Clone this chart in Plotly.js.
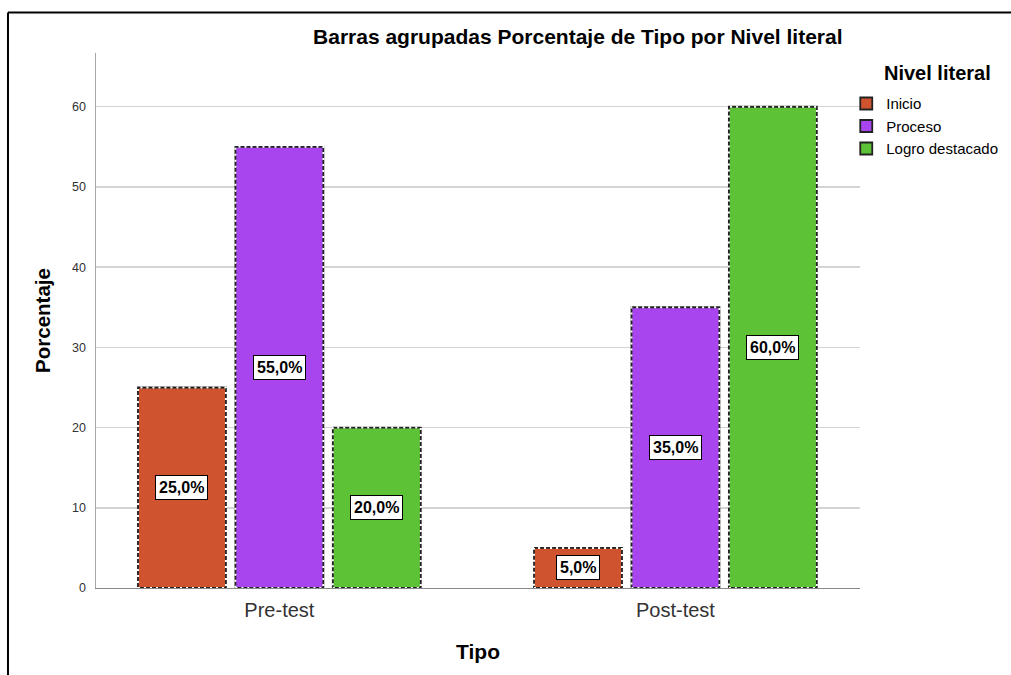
<!DOCTYPE html>
<html>
<head>
<meta charset="utf-8">
<script src="https://cdn.plot.ly/plotly-3.0.1.min.js"></script>
<style>html,body{margin:0;padding:0;background:#fff;}#chart{width:1011px;height:675px;}</style>
</head>
<body>
<div id="chart"></div>
<script>
// ---- data ----
const categories = ["Pre-test", "Post-test"];
const seriesNames = ["Inicio", "Proceso", "Logro destacado"];
const inicio = [25.0, 5.0];
const proceso = [55.0, 35.0];
const logro = [20.0, 60.0];
const seriesColors = ["#d0532f", "#a845ee", "#5ec236"];
const yTicks = [0, 10, 20, 30, 40, 50, 60];
const legendTitle = "Nivel literal";

const seriesValues = [inicio, proceso, logro];
const bargap = 0.262;
const bargroupgap = 0.097;
const FONT = "Liberation Sans, Arial, sans-serif";

const traces = seriesValues.map((vals, s) => ({
  type: "bar",
  name: seriesNames[s],
  x: categories,
  y: vals,
  marker: { color: seriesColors[s], line: { color: "#222222", width: 1.8 } },
  hoverinfo: "skip"
}));

// compute bar positions the way plotly groups them (for outlines / labels)
const nS = seriesValues.length;
const slot = (1 - bargap) / nS;
const bw = slot * (1 - bargroupgap);
const shapes = [];
const annotations = [];
seriesValues.forEach((vals, s) => {
  vals.forEach((v, i) => {
    const c = i + (s - (nS - 1) / 2) * slot;
    // white dash gaps over solid dark outline -> dashed look
    shapes.push({
      type: "rect", xref: "x", yref: "y",
      x0: c - bw / 2, x1: c + bw / 2, y0: 0, y1: v,
      line: { color: "#ffffff", width: 2, dash: "2px,4px" },
      fillcolor: "rgba(0,0,0,0)", layer: "above"
    });
    annotations.push({
      x: c, y: v / 2, xref: "x", yref: "y",
      text: "<b>" + v.toFixed(1).replace(".", ",") + "%</b>",
      showarrow: false,
      font: { family: FONT, size: 16, color: "#000" },
      bgcolor: "#ffffff", bordercolor: "#000000", borderwidth: 1, borderpad: 3
    });
  });
});

// legend title
annotations.push({
  xref: "paper", yref: "paper", x: 1.102, y: 0.9626, xanchor: "center", yanchor: "middle",
  text: "<b>" + legendTitle + "</b>", showarrow: false,
  font: { family: FONT, size: 20, color: "#000" }
});

// outer frame (left, top)
shapes.push({ type: "line", xref: "paper", yref: "paper", x0: -0.1152, x1: -0.1152, y0: 1.0757, y1: -0.2,
  line: { color: "#000", width: 2 } });
shapes.push({ type: "line", xref: "paper", yref: "paper", x0: -0.1152, x1: 1.2, y0: 1.0757, y1: 1.0757,
  line: { color: "#000", width: 2 } });

const layout = {
  width: 1011, height: 675,
  margin: { l: 96, r: 151, t: 53, b: 87, autoexpand: false },
  paper_bgcolor: "#ffffff", plot_bgcolor: "#ffffff",
  font: { family: FONT, color: "#333" },
  barmode: "group", bargap: bargap, bargroupgap: bargroupgap,
  title: { text: "<b>Barras agrupadas Porcentaje de Tipo por Nivel literal</b>",
    font: { family: FONT, size: 21, color: "#000" }, x: 0.5715, xanchor: "center", y: 0.945, yanchor: "middle" },
  xaxis: {
    type: "category", range: [-0.463, 1.466],
    showgrid: false, showline: true, linecolor: "#888", linewidth: 1,
    ticks: "", ticklabelstandoff: 4, tickfont: { family: FONT, size: 20, color: "#333" },
    title: { text: "<b>Tipo</b>", font: { family: FONT, size: 21, color: "#000" }, standoff: 24 },
    fixedrange: true
  },
  yaxis: {
    range: [0, 66.7], tickvals: yTicks, ticktext: yTicks.map(String),
    showgrid: true, gridcolor: "#d4d4d4", gridwidth: 1.5,
    showline: true, linecolor: "#a6a6a6", linewidth: 1.5, zeroline: false,
    ticks: "", ticklabelstandoff: 6,
    tickfont: { family: FONT, size: 12.5, color: "#333" },
    title: { text: "<b>Porcentaje</b>", font: { family: FONT, size: 20.5, color: "#000" }, standoff: 16 },
    fixedrange: true
  },
  legend: {
    x: 0.982, xanchor: "left", y: 0.936, yanchor: "top",
    font: { family: FONT, size: 15, color: "#000" },
    tracegroupgap: 0, itemwidth: 30, traceorder: "normal",
    bgcolor: "rgba(0,0,0,0)"
  },
  shapes: shapes,
  annotations: annotations,
  showlegend: true
};

Plotly.newPlot("chart", traces, layout, { displayModeBar: false, staticPlot: true });
</script>
</body>
</html>
